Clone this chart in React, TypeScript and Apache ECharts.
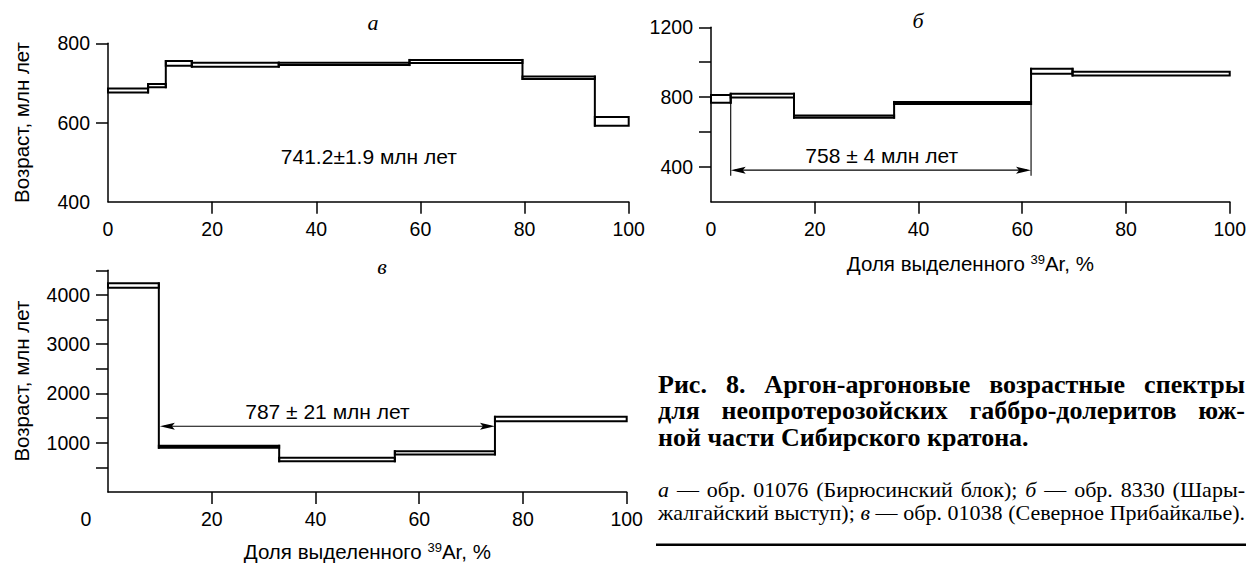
import React, { useEffect, useRef } from "react";
import * as echarts from "echarts";

// ---------- Data ----------
// Panel а: step boundaries (% 39Ar), plateau ages and ± errors (Ma)
const aBounds = [0, 7.7, 11.1, 16.1, 32.8, 57.9, 79.6, 93.5, 100];
const aAges = [681, 693, 749, 746, 748, 754, 713, 603];
const aErrs = [5, 4, 6, 5, 3, 4, 3, 11];
const aPlateauText = "741.2±1.9 млн лет";

// Panel б
const bBounds = [0, 3.8, 16.0, 35.3, 61.7, 69.7, 100];
const bAges = [790, 808, 688, 766, 948, 934];
const bErrs = [22, 11, 6, 6, 14, 11];
const bPlateauText = "758 ± 4 млн лет";
const bArrow = [3.8, 61.7, 381];
const bArrowTicks = [3.8, 61.7];
const bArrowTickBottom = 349;

// Panel в
const vBounds = [0, 9.8, 33.0, 55.3, 74.6, 100];
const vAges = [4190, 918, 658, 796, 1481];
const vErrs = [45, 20, 35, 33, 45];
const vPlateauText = "787 ± 21 млн лет";
const vArrow = [10.0, 74.6, 1335];

// Axis ticks / labels
const xTicks = [20, 40, 60, 80, 100];
const xLabels = [0, 20, 40, 60, 80, 100];
const aYTicks = [600, 800];
const aYLabels = [400, 600, 800];
const bYTicks = [400, 600, 800, 1000, 1200];
const bYLabels = [400, 800, 1200];
const vYTicks = [500, 1000, 1500, 2000, 2500, 3000, 3500, 4000, 4500];
const vYLabels = [1000, 2000, 3000, 4000];

const yName = "Возраст, млн лет";
const xName = "Доля выделенного {sup|39}Ar, %";

// Caption
const captionBold = [
  { words: ["Рис.", "8.", "Аргон-аргоновые", "возрастные", "спектры"], justify: true },
  { words: ["для", "неопротерозойских", "габбро-долеритов", "юж-"], justify: true },
  { words: ["ной", "части", "Сибирского", "кратона."], justify: false },
];
const captionSmall = [
  {
    words: ["*а", "—", "обр.", "01076", "(Бирюсинский", "блок);", "*б", "—", "обр.", "8330", "(Шары-"],
    justify: true,
  },
  {
    words: ["жалгайский", "выступ);", "*в", "—", "обр.", "01038", "(Северное", "Прибайкалье)."],
    justify: true,
  },
];

const SANS = '"Liberation Sans", Arial, sans-serif';
const SERIF = '"Liberation Serif", "Times New Roman", serif';
const TICK_FS = 19.5;
const NAME_FS = 20.5;
const NOTE_FS = 21;

function stepData(bounds: number[], ages: number[], errs: number[]) {
  return ages.map((a, i) => {
    const pLo = i > 0 ? ages[i - 1] - errs[i - 1] : a - errs[i];
    const pHi = i > 0 ? ages[i - 1] + errs[i - 1] : a + errs[i];
    return [bounds[i], bounds[i + 1], a, errs[i], pLo, pHi];
  });
}

const LW = 2;

const renderStep = (params: any, api: any) => {
  const x0 = api.value(0), x1 = api.value(1), a = api.value(2), e = api.value(3);
  const pLo = api.value(4), pHi = api.value(5);
  const tl = api.coord([x0, a + e]);
  const br = api.coord([x1, a - e]);
  const children: any[] = [
    {
      type: "rect",
      shape: { x: tl[0], y: tl[1], width: br[0] - tl[0], height: br[1] - tl[1] },
      style: { fill: "#fff", stroke: "#000", lineWidth: LW },
    },
  ];
  if (params.dataIndex > 0) {
    const lo = Math.min(pLo, a - e), hi = Math.max(pHi, a + e);
    const p1 = api.coord([x0, hi]), p2 = api.coord([x0, lo]);
    children.push({
      type: "line",
      shape: { x1: p1[0], y1: p1[1] - LW / 2, x2: p2[0], y2: p2[1] + LW / 2 },
      style: { stroke: "#000", lineWidth: LW },
    });
  }
  return { type: "group", children };
};

const renderArrow = (_p: any, api: any) => {
  const x0 = api.value(0), x1 = api.value(1), y = api.value(2);
  const p0 = api.coord([x0, y]), p1 = api.coord([x1, y]);
  const L = 15, W = 3.5, N = 3;
  return {
    type: "group",
    children: [
      { type: "line", shape: { x1: p0[0] + 4, y1: p0[1], x2: p1[0] - 4, y2: p1[1] }, style: { stroke: "#000", lineWidth: 1.1 } },
      {
        type: "polygon",
        shape: { points: [[p0[0], p0[1]], [p0[0] + L, p0[1] - W], [p0[0] + L - N, p0[1]], [p0[0] + L, p0[1] + W]] },
        style: { fill: "#000" },
      },
      {
        type: "polygon",
        shape: { points: [[p1[0], p1[1]], [p1[0] - L, p1[1] - W], [p1[0] - L + N, p1[1]], [p1[0] - L, p1[1] + W]] },
        style: { fill: "#000" },
      },
    ],
  };
};

const renderVLine = (_p: any, api: any) => {
  const x = api.value(0), yTop = api.value(1), yBot = api.value(2);
  const p0 = api.coord([x, yTop]), p1 = api.coord([x, yBot]);
  return { type: "line", shape: { x1: p0[0], y1: p0[1], x2: p1[0], y2: p1[1] }, style: { stroke: "#000", lineWidth: 1.1 } };
};

function textSeries(idx: number, text: string, pos: number[]) {
  return {
    type: "custom",
    xAxisIndex: idx,
    yAxisIndex: idx,
    data: [pos],
    renderItem: (_p: any, api: any) => {
      const p = api.coord([api.value(0), api.value(1)]);
      return {
        type: "text",
        x: p[0],
        y: p[1],
        style: { text, fontSize: NOTE_FS, fontFamily: SANS, fill: "#000", align: "center", verticalAlign: "middle" },
      };
    },
  };
}

function xAxisCfg(gridIndex: number, name: string | null, shiftZero: boolean, gap: number) {
  return {
    type: "value",
    gridIndex,
    min: 0,
    max: 100,
    name: name || undefined,
    nameLocation: "middle",
    nameGap: gap,
    nameTextStyle: {
      fontSize: NAME_FS,
      fontFamily: SANS,
      color: "#000",
      rich: { sup: { fontSize: 13, fontFamily: SANS, color: "#000", verticalAlign: "top" } },
    },
    axisLine: { show: true, onZero: false, lineStyle: { color: "#000", width: 1.5 } },
    axisTick: { show: true, length: 12, customValues: xTicks, lineStyle: { color: "#000", width: 1.5 } },
    axisLabel: {
      customValues: xLabels,
      color: "#000",
      fontSize: TICK_FS,
      fontFamily: SANS,
      margin: 17,
      formatter: (v: number) => (shiftZero && v === 0 ? "{z|0}" : String(v)),
      rich: { z: { fontSize: TICK_FS, fontFamily: SANS, color: "#000", padding: [0, 44, 0, 0] } },
    },
    splitLine: { show: false },
  };
}

function yAxisCfg(gridIndex: number, min: number, max: number, ticks: number[], labels: number[], withName: boolean) {
  return {
    type: "value",
    gridIndex,
    min,
    max,
    name: withName ? yName : undefined,
    nameLocation: "middle",
    nameRotate: 90,
    nameGap: 76,
    nameTextStyle: { fontSize: NAME_FS, fontFamily: SANS, color: "#000" },
    axisLine: { show: true, onZero: false, lineStyle: { color: "#000", width: 1.5 } },
    axisTick: { show: true, length: 12, customValues: ticks, lineStyle: { color: "#000", width: 1.5 } },
    axisLabel: {
      customValues: labels,
      color: "#000",
      fontSize: TICK_FS,
      fontFamily: SANS,
      margin: 18,
      formatter: (v: number) => String(v),
    },
    splitLine: { show: false },
  };
}

// Build one multi-line rich text per caption block; words get fixed token widths to justify lines.
function captionBlock(lines: any[], size: number, bold: boolean, top: number, pitch: number, prefix: string) {
  const ctx = document.createElement("canvas").getContext("2d") as CanvasRenderingContext2D;
  const left = 658, right = 1245, W = right - left;
  const rich: any = {};
  const rows: string[] = [];
  let k = 0;
  lines.forEach((ln) => {
    const items = ln.words.map((w: string) => {
      const italic = w.startsWith("*");
      const t = italic ? w.slice(1) : w;
      ctx.font = `${italic ? "italic " : ""}${bold ? "bold " : ""}${size}px ${SERIF}`;
      return { t, italic, w: ctx.measureText(t).width };
    });
    ctx.font = `${bold ? "bold " : ""}${size}px ${SERIF}`;
    const space = ctx.measureText(" ").width;
    const total = items.reduce((s: number, it: any) => s + it.w, 0);
    const gap = ln.justify && items.length > 1 ? (W - total) / (items.length - 1) : space;
    let row = "";
    items.forEach((it: any, i: number) => {
      const key = `${prefix}${k++}`;
      const last = i === items.length - 1;
      rich[key] = {
        width: last ? it.w + 2 : it.w + gap,
        fontSize: size,
        fontFamily: SERIF,
        fontWeight: bold ? "bold" : "normal",
        fontStyle: it.italic ? "italic" : "normal",
        color: "#000",
        lineHeight: pitch,
        align: "left",
      };
      row += `{${key}|${it.t}}`;
    });
    rows.push(row);
  });
  return {
    type: "text",
    x: left,
    y: top,
    style: {
      text: rows.join("\n"),
      rich,
      fontSize: size,
      fontFamily: SERIF,
      lineHeight: pitch,
      fill: "#000",
      align: "left",
      verticalAlign: "top",
    },
  };
}

export default function App() {
  const ref = useRef<HTMLDivElement>(null);
  useEffect(() => {
    if (!ref.current) return;
    const chart = echarts.init(ref.current, null, { renderer: "svg" });
    const panelLabel = (t: string, x: number, y: number) => ({
      type: "text",
      x,
      y,
      style: { text: t, fontSize: 22, fontFamily: SERIF, fontStyle: "italic", fill: "#000", align: "center", verticalAlign: "middle" },
    });
    chart.setOption({
      animation: false,
      backgroundColor: "#fff",
      textStyle: { fontFamily: SANS },
      grid: [
        { left: 108, top: 43.3, width: 520.7, height: 158.4 },
        { left: 711, top: 27.3, width: 520, height: 174.4 },
        { left: 108, top: 270.3, width: 518.7, height: 222.4 },
      ],
      xAxis: [xAxisCfg(0, null, false, 50), xAxisCfg(1, xName, false, 51), xAxisCfg(2, xName, true, 49)],
      yAxis: [
        yAxisCfg(0, 400, 800, aYTicks, aYLabels, true),
        yAxisCfg(1, 200, 1200, bYTicks, bYLabels, false),
        yAxisCfg(2, 0, 4500, vYTicks, vYLabels, true),
      ],
      series: [
        { type: "custom", xAxisIndex: 0, yAxisIndex: 0, data: stepData(aBounds, aAges, aErrs), renderItem: renderStep, clip: false },
        { type: "custom", xAxisIndex: 1, yAxisIndex: 1, data: stepData(bBounds, bAges, bErrs), renderItem: renderStep, clip: false },
        { type: "custom", xAxisIndex: 2, yAxisIndex: 2, data: stepData(vBounds, vAges, vErrs), renderItem: renderStep, clip: false },
        textSeries(0, aPlateauText, [50.1, 515]),
        textSeries(1, bPlateauText, [32.9, 463]),
        textSeries(2, vPlateauText, [42.3, 1639]),
        { type: "custom", xAxisIndex: 1, yAxisIndex: 1, data: [bArrow], renderItem: renderArrow },
        { type: "custom", xAxisIndex: 2, yAxisIndex: 2, data: [vArrow], renderItem: renderArrow },
        {
          type: "custom",
          xAxisIndex: 1,
          yAxisIndex: 1,
          data: bArrowTicks.map((x) => {
            const i = bBounds.indexOf(x);
            const lo = Math.min(bAges[i - 1] - bErrs[i - 1], bAges[i] - bErrs[i]);
            return [x, lo, bArrowTickBottom];
          }),
          renderItem: renderVLine,
        },
      ],
      graphic: [
        panelLabel("а", 373, 22),
        panelLabel("б", 918, 20),
        panelLabel("в", 382, 266),
        captionBlock(captionBold, 26, true, 371, 26.5, "b"),
        captionBlock(captionSmall, 22, false, 478, 23, "s"),
        { type: "rect", shape: { x: 656, y: 543.5, width: 590, height: 2.5 }, style: { fill: "#000" } },
      ],
    });
    return () => chart.dispose();
  }, []);
  return <div ref={ref} style={{ position: "absolute", left: 0, top: 0, width: 1249, height: 563 }} />;
}
